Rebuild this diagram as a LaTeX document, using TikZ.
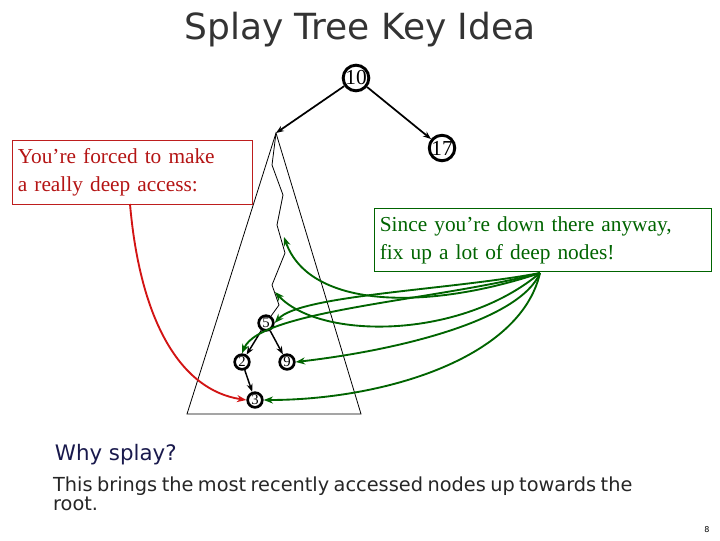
\documentclass[tikz,border=0pt]{standalone}
\usepackage{fontspec}
\setsansfont{DejaVu Sans}
\newfontfamily\timesfont{Liberation Serif}
\usetikzlibrary{arrows.meta}
\tikzset{every picture/.style={line width=0.75pt}}
\tikzset{
  keynode/.style={circle,draw,line width=2.2pt,inner sep=0pt,minimum size=17pt,font=\timesfont\fontsize{16}{16}\selectfont},
  smallnode/.style={circle,draw,line width=2pt,inner sep=0pt,minimum size=11pt,font=\timesfont\fontsize{11}{11}\selectfont},
  treeedge/.style={line width=1.3pt,-{Stealth[length=6pt]}},
  notebox/.style={align=left,inner xsep=4pt,inner ysep=6pt,font=\timesfont\fontsize{16}{21}\selectfont,anchor=north west},
  fixarrow/.style={draw={rgb,255:red,0;green,100;blue,0},line width=1.4pt,-{Stealth[length=7pt]}},
}
\begin{document}
\begin{tikzpicture}[x=0.75pt,y=0.75pt,yscale=-1,xscale=1]
\useasboundingbox (0,0) rectangle (720,540);
% title
\node (title) at (360,30) {\sffamily\fontsize{27}{27}\selectfont\color[rgb]{0.2,0.2,0.2}Splay Tree Key Idea};
% top of tree
\node[keynode] (n10) at (356,78) {10};
\node[keynode] (n17) at (442,148) {17};
\coordinate (apex) at (276,133);
\draw[treeedge] (n10) -- (apex);
\draw[treeedge] (n10) -- (n17);
% subtree triangle
\coordinate (bl) at (187,414);
\coordinate (br) at (361,414);
\draw[line width=0.6pt] (apex) -- (bl) -- (br) -- cycle;
% deep nodes
\node[smallnode] (n5) at (266,323) {5};
\node[smallnode] (n2) at (242,362) {2};
\node[smallnode] (n9) at (287,362) {9};
\node[smallnode] (n3) at (255,400) {3};
\draw[line width=0.6pt] (apex) -- (272,165) -- (283,195) -- (277,225) -- (285,253) -- (272,285) -- (279,305) -- (n5);
\draw[treeedge,line width=1.1pt] (n5) -- (n2);
\draw[treeedge,line width=1.1pt] (n5) -- (n9);
\draw[treeedge,line width=1.1pt] (n2) -- (n3);
% red note
\node[notebox,draw={rgb,255:red,190;green,30;blue,30},text={rgb,255:red,180;green,20;blue,20},text width=172pt] (deep) at (12,140) {You’re forced to make\\a really deep access:};
\coordinate (deepout) at (130,204);
\draw[draw={rgb,255:red,210;green,20;blue,20},line width=1.4pt,-{Stealth[length=7pt]}] (deepout) .. controls (140,320) and (180,390) .. (n3.west);
% green note
\node[notebox,draw={rgb,255:red,0;green,100;blue,0},text={rgb,255:red,0;green,100;blue,0},text width=245pt] (fix) at (374,208) {Since you’re down there anyway,\\fix up a lot of deep nodes!};
\coordinate (fixout) at (540,273);
\draw[fixarrow] (fixout) .. controls (430,310) and (310,310) .. (284,237);
\draw[fixarrow] (fixout) .. controls (460,340) and (320,340) .. (275,292);
\draw[fixarrow] (fixout) .. controls (450,290) and (300,295) .. (n5.east);
\draw[fixarrow] (fixout) .. controls (440,300) and (260,310) .. (n2.north);
\draw[fixarrow] (fixout) .. controls (520,320) and (400,350) .. (n9.east);
\draw[fixarrow] (fixout) .. controls (520,360) and (380,400) .. (n3.east);
% bottom text
\node[anchor=west] (why) at (50,455) {\sffamily\fontsize{16}{16}\selectfont\color[rgb]{0.1,0.1,0.3}Why splay?};
\node[anchor=north west,align=left,text width=455pt,inner sep=2pt] (body) at (50,474) {\sffamily\fontsize{14.5}{15}\selectfont\color[rgb]{0.15,0.15,0.15}This brings the most recently accessed nodes up towards the root.};
\node (page) at (707,530) {\sffamily\fontsize{6}{6}\selectfont 8};
\end{tikzpicture}
\end{document}
